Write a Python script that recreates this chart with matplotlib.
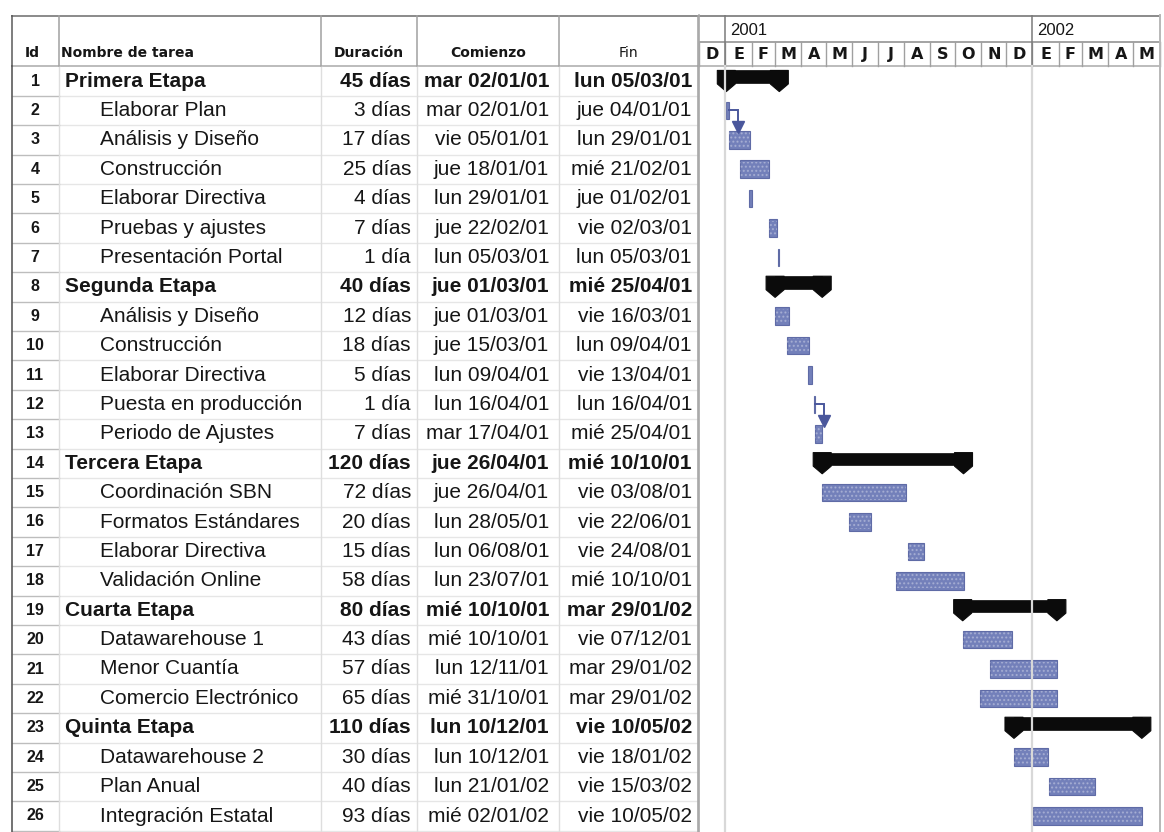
import matplotlib
matplotlib.use("Agg")
import matplotlib.pyplot as plt
import matplotlib.dates as mdates
from matplotlib.patches import Polygon
from datetime import datetime, timedelta

# ---------------- data ----------------
task_ids = [str(i) for i in range(1, 27)]
task_names = ["Primera Etapa", "Elaborar Plan", "Análisis y Diseño", "Construcción",
              "Elaborar Directiva", "Pruebas y ajustes", "Presentación Portal", "Segunda Etapa",
              "Análisis y Diseño", "Construcción", "Elaborar Directiva", "Puesta en producción",
              "Periodo de Ajustes", "Tercera Etapa", "Coordinación SBN", "Formatos Estándares",
              "Elaborar Directiva", "Validación Online", "Cuarta Etapa", "Datawarehouse 1",
              "Menor Cuantía", "Comercio Electrónico", "Quinta Etapa", "Datawarehouse 2",
              "Plan Anual", "Integración Estatal"]
summary_rows = [1, 8, 14, 19, 23]
durations = ["45 días", "3 días", "17 días", "25 días", "4 días", "7 días", "1 día",
             "40 días", "12 días", "18 días", "5 días", "1 día", "7 días",
             "120 días", "72 días", "20 días", "15 días", "58 días",
             "80 días", "43 días", "57 días", "65 días",
             "110 días", "30 días", "40 días", "93 días"]
starts = ["mar 02/01/01", "mar 02/01/01", "vie 05/01/01", "jue 18/01/01", "lun 29/01/01",
          "jue 22/02/01", "lun 05/03/01", "jue 01/03/01", "jue 01/03/01", "jue 15/03/01",
          "lun 09/04/01", "lun 16/04/01", "mar 17/04/01", "jue 26/04/01", "jue 26/04/01",
          "lun 28/05/01", "lun 06/08/01", "lun 23/07/01", "mié 10/10/01", "mié 10/10/01",
          "lun 12/11/01", "mié 31/10/01", "lun 10/12/01", "lun 10/12/01", "lun 21/01/02",
          "mié 02/01/02"]
ends = ["lun 05/03/01", "jue 04/01/01", "lun 29/01/01", "mié 21/02/01", "jue 01/02/01",
        "vie 02/03/01", "lun 05/03/01", "mié 25/04/01", "vie 16/03/01", "lun 09/04/01",
        "vie 13/04/01", "lun 16/04/01", "mié 25/04/01", "mié 10/10/01", "vie 03/08/01",
        "vie 22/06/01", "vie 24/08/01", "mié 10/10/01", "mar 29/01/02", "vie 07/12/01",
        "mar 29/01/02", "mar 29/01/02", "vie 10/05/02", "vie 18/01/02", "vie 15/03/02",
        "vie 10/05/02"]
links = [(2, 3), (12, 13)]
column_headers = ["Id", "Nombre de tarea", "Duración", "Comienzo", "Fin"]
month_letters = ["D", "E", "F", "M", "A", "M", "J", "J", "A", "S", "O", "N", "D",
                 "E", "F", "M", "A", "M"]
years = ["2001", "2002"]
timeline_start = "01/12/00"

# ---------------- layout ----------------
W, H = 1164, 832
P = 29.4        # row pitch (px)
Y1 = 81.0       # centre of row 1 (px)
TOP = 15.0      # top border (px)


def py2y(py):
    return 1 + (py - Y1) / P


ytop, ybot = py2y(TOP), py2y(H)
TXT = "#161616"
BODY_FONT = ["Liberation Sans", "DejaVu Sans"]
HEAD_FONT = ["DejaVu Sans"]


def parse(s):
    return datetime.strptime(s.split()[1], "%d/%m/%y")


fig = plt.figure(figsize=(W / 100, H / 100), dpi=100)
fig.patch.set_facecolor("white")

# ---------------- table ----------------
GX0 = 699.4
ax_t = fig.add_axes([0, 0, GX0 / W, (H - TOP) / H])
ax_t.set_xlim(0, GX0)
ax_t.set_ylim(ybot, ytop)
ax_t.axis("off")

col_lines = [12, 59, 321, 417, 559, 698]
hdr_bottom = 0.5
# horizontal row lines
for i in range(1, 27):
    ax_t.plot([59, 698], [i + 0.5, i + 0.5], color="#e6e6e6", lw=1.0, clip_on=False)
    ax_t.plot([12, 59], [i + 0.5, i + 0.5], color="#bdbdbd", lw=1.0, clip_on=False)
ax_t.plot([12, 698], [hdr_bottom, hdr_bottom], color="#b0b0b0", lw=1.2)
ax_t.plot([12, GX0], [ytop + 0.03, ytop + 0.03], color="#8a8a8a", lw=1.4)
for k, cx in enumerate(col_lines):
    c_body = "#5a5a5a" if k == 0 else ("#a8a8a8" if k == len(col_lines) - 1 else "#dedede")
    ax_t.plot([cx, cx], [hdr_bottom, ybot], color=c_body, lw=1.2 if k in (0, 5) else 1.0)
    ax_t.plot([cx, cx], [ytop, hdr_bottom], color="#a0a0a0" if k else "#5a5a5a", lw=1.1)

# header labels
hy = py2y(53)
ax_t.text(32, hy, column_headers[0], ha="center", va="center", fontsize=10,
          fontweight="bold", family=HEAD_FONT, color=TXT)
ax_t.text(61, hy, column_headers[1], ha="left", va="center", fontsize=10,
          fontweight="bold", family=HEAD_FONT, color=TXT)
ax_t.text(369, hy, column_headers[2], ha="center", va="center", fontsize=10,
          fontweight="bold", family=HEAD_FONT, color=TXT)
ax_t.text(488, hy, column_headers[3], ha="center", va="center", fontsize=10,
          fontweight="bold", family=HEAD_FONT, color=TXT)
ax_t.text(628, hy, column_headers[4], ha="center", va="center", fontsize=10,
          fontweight="normal", family=HEAD_FONT, color=TXT)

for i in range(26):
    row = i + 1
    summ = row in summary_rows
    fw = "bold" if summ else "normal"
    ax_t.text(35, row, task_ids[i], ha="center", va="center", fontsize=11.5,
              fontweight="bold", family=BODY_FONT, color=TXT)
    ax_t.text(65 if summ else 100, row, task_names[i], ha="left", va="center",
              fontsize=15, fontweight=fw, family=BODY_FONT, color=TXT)
    ax_t.text(411, row, durations[i], ha="right", va="center", fontsize=15,
              fontweight=fw, family=BODY_FONT, color=TXT)
    ax_t.text(549, row, starts[i], ha="right", va="center", fontsize=15,
              fontweight=fw, family=BODY_FONT, color=TXT)
    ax_t.text(692, row, ends[i], ha="right", va="center", fontsize=15,
              fontweight=fw, family=BODY_FONT, color=TXT)

# ---------------- gantt ----------------
t0 = datetime.strptime(timeline_start, "%d/%m/%y")
month_starts = []
y_, m_ = t0.year, t0.month
for _ in range(len(month_letters) + 1):
    month_starts.append(datetime(y_, m_, 1))
    m_ += 1
    if m_ > 12:
        m_, y_ = 1, y_ + 1
x_lo, x_hi = mdates.date2num(month_starts[0]), mdates.date2num(month_starts[-1])
GX1 = 1159.5
ax_g = fig.add_axes([GX0 / W, 0, (GX1 - GX0) / W, (H - TOP) / H])
ax_g.set_xlim(x_lo, x_hi)
ax_g.set_ylim(ybot, ytop)
ax_g.axis("off")
px_day = (GX1 - GX0) / (x_hi - x_lo)   # px per day
d_px = 1.0 / px_day                     # days per px

tier = py2y(42)
# header lines
ax_g.plot([x_lo, x_hi], [ytop + 0.03, ytop + 0.03], color="#8a8a8a", lw=1.4, clip_on=False)
ax_g.plot([x_lo, x_hi], [tier, tier], color="#8a8a8a", lw=1.1)
ax_g.plot([x_lo, x_hi], [hdr_bottom, hdr_bottom], color="#b0b0b0", lw=1.2)
for k, ms in enumerate(month_starts):
    xm = mdates.date2num(ms)
    ax_g.plot([xm, xm], [tier, hdr_bottom], color="#a0a0a0", lw=1.0, clip_on=False)
    if k < len(month_letters):
        xc = (xm + mdates.date2num(month_starts[k + 1])) / 2
        ax_g.text(xc, py2y(54), month_letters[k], ha="center", va="center",
                  fontsize=11.5, fontweight="bold", family=HEAD_FONT, color=TXT)
for yr in years:
    xy = mdates.date2num(datetime(int(yr), 1, 1))
    ax_g.plot([xy, xy], [ytop, hdr_bottom], color="#7a7a7a", lw=1.1)
    ax_g.plot([xy, xy], [hdr_bottom, ybot], color="#d8d8d8", lw=1.6)
    ax_g.text(xy + 5 * d_px, py2y(30), yr, ha="left", va="center", fontsize=12,
              family=BODY_FONT, color=TXT)
ax_g.plot([x_hi, x_hi], [ytop, ybot], color="#b8b8b8", lw=1.4, clip_on=False)
ax_g.plot([x_lo, x_lo], [ytop, ybot], color="#a8a8a8", lw=1.2, clip_on=False)

BAR = "#7380ba"
BAR_EDGE = "#5f6ba6"
bar_h = 0.6
for i in range(26):
    row = i + 1
    s = mdates.date2num(parse(starts[i]))
    e = mdates.date2num(parse(ends[i]) + timedelta(days=1))
    if row in summary_rows:
        hw = 9 * d_px
        top = row - 0.36
        ax_g.add_patch(Polygon([(s, top), (e, top), (e, row + 0.06), (s, row + 0.06)],
                               closed=True, facecolor="#0b0b0b", edgecolor="#0b0b0b", lw=0.5))
        for xc in (s, e):
            ax_g.add_patch(Polygon([(xc - hw, top), (xc + hw, top), (xc + hw, row + 0.1),
                                    (xc, row + 0.36), (xc - hw, row + 0.1)],
                                   closed=True, facecolor="#0b0b0b", edgecolor="#0b0b0b",
                                   lw=0.8, joinstyle="round"))
    else:
        ax_g.barh(row, e - s, left=s, height=bar_h, color=BAR, edgecolor=BAR_EDGE, lw=0.8)
        if e - s > 6:
            ax_g.barh(row, e - s, left=s, height=bar_h * 0.85, facecolor="none",
                      edgecolor=(1, 1, 1, 0.3), hatch="....", lw=0)

LINK = "#4a579c"
for a, b in links:
    ea = mdates.date2num(parse(ends[a - 1]) + timedelta(days=1))
    xm = ea + 9 * d_px
    ax_g.plot([ea, xm, xm], [a, a, b - bar_h / 2 - 0.3], color=LINK, lw=1.4,
              solid_joinstyle="miter")
    ax_g.plot([xm], [b - bar_h / 2 - 0.15], marker="v", ms=9, color=LINK, mec=LINK)

fig.savefig("out.png", dpi=100, facecolor="white")
